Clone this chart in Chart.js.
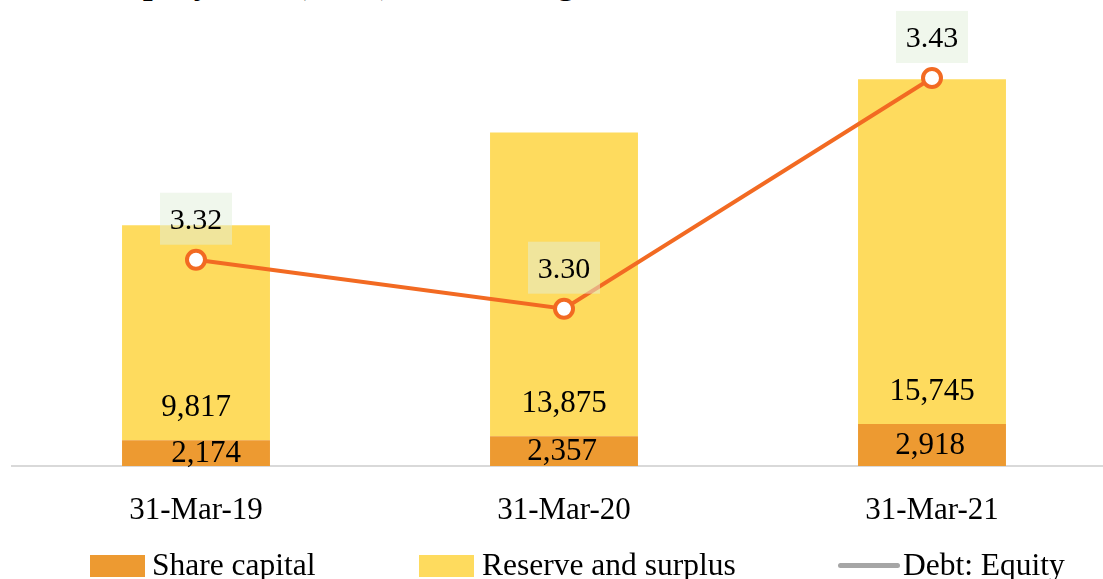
<!DOCTYPE html>
<html>
<head>
<meta charset="utf-8">
<script src="https://cdn.jsdelivr.net/npm/chart.js@4"></script>
<style>
  html, body { margin: 0; padding: 0; background: #fff; overflow: hidden; width: 1103px; height: 579px; }
  #c { position: absolute; left: 0; top: 0; }
  .serif { font-family: "Liberation Serif", "DejaVu Serif", serif; color: #000; }
  #title { position: absolute; left: 110px; top: -36px; font-size: 35px; line-height: 35px; font-weight: bold; white-space: nowrap; }
  .lg { position: absolute; font-size: 31.5px; line-height: 32px; white-space: nowrap; }
  .sw { position: absolute; }
</style>
</head>
<body>
<div id="title" class="serif">Equity base (₹ Cr) and leverage</div>
<canvas id="c" width="1116" height="579"></canvas>

<div class="sw" style="left:90px;top:555px;width:55px;height:22px;background:#ED9A31"></div>
<div class="lg serif" style="left:152px;top:549px">Share capital</div>
<div class="sw" style="left:419px;top:555px;width:55px;height:22px;background:#FEDB5E"></div>
<div class="lg serif" style="left:482px;top:549px">Reserve and surplus</div>
<div class="sw" style="left:838px;top:563px;width:62px;height:5px;border-radius:3px;background:#A6A6A6"></div>
<div class="lg serif" style="left:903px;top:549px">Debt: Equity</div>

<script>
const categories = ['31-Mar-19', '31-Mar-20', '31-Mar-21'];
const shareCapital = [2174, 2357, 2918];
const reserves = [9817, 13875, 15745];
const debtEquity = [3.324, 3.296, 3.428];

const FONT = '"Liberation Serif", "DejaVu Serif", serif';
const fmt = v => v.toLocaleString('en-US');

// labels inside the bars and boxed labels over the line points
const valueLabels = {
  id: 'valueLabels',
  afterDatasetsDraw(chart) {
    const ctx = chart.ctx, area = chart.chartArea;
    ctx.save();
    ctx.font = '31px ' + FONT;
    ctx.textAlign = 'center';
    ctx.textBaseline = 'middle';
    ctx.fillStyle = '#000';
    chart.getDatasetMeta(0).data.forEach((bar, i) => {
      const bottom = Math.min(bar.base, area.bottom);
      ctx.fillText(fmt(shareCapital[i]), bar.x + (i === 0 ? 10 : -2), (bar.y + bottom) / 2 + 1);
    });
    chart.getDatasetMeta(1).data.forEach((bar, i) => {
      ctx.fillText(fmt(reserves[i]), bar.x, Math.min(bar.base, area.bottom) - 32);
    });
    ctx.font = '30px ' + FONT;
    chart.getDatasetMeta(2).data.forEach((pt, i) => {
      const cy = pt.y - 41;
      ctx.fillStyle = 'rgba(226,239,218,0.5)';
      ctx.fillRect(pt.x - 36, cy - 26, 72, 52);
      ctx.fillStyle = '#000';
      ctx.fillText(debtEquity[i].toFixed(2), pt.x, cy + 2);
    });
    ctx.restore();
  }
};

new Chart(document.getElementById('c'), {
  type: 'bar',
  data: {
    labels: categories,
    datasets: [
      { label: 'Share capital', data: shareCapital, backgroundColor: '#ED9A31', stack: 's', order: 1,
        barPercentage: 0.402, categoryPercentage: 1.0 },
      { label: 'Reserve and surplus', data: reserves, backgroundColor: '#FEDB5E', stack: 's', order: 2,
        barPercentage: 0.402, categoryPercentage: 1.0 },
      { type: 'line', label: 'Debt: Equity', data: debtEquity, yAxisID: 'y2', order: 0,
        borderColor: '#F26A22', borderWidth: 4, pointRadius: 9, pointBorderWidth: 4,
        pointBackgroundColor: '#fff', pointBorderColor: '#F26A22', tension: 0 }
    ]
  },
  options: {
    responsive: false,
    animation: false,
    layout: { autoPadding: false, padding: { left: 12, top: 50, right: 0, bottom: 0 } },
    plugins: { legend: { display: false }, tooltip: { enabled: false } },
    scales: {
      x: {
        stacked: true,
        grid: { display: false, drawTicks: false },
        border: { display: true, color: '#D9D9D9', width: 2 },
        ticks: { color: '#000', font: { family: FONT, size: 31 }, padding: 26 },
        afterFit: s => { s.height = 113; }
      },
      y: { stacked: true, display: false, min: 1000, max: 20000 },
      y2: { display: false, position: 'right', min: 3.206, max: 3.444 }
    }
  },
  plugins: [valueLabels]
});
</script>
</body>
</html>
